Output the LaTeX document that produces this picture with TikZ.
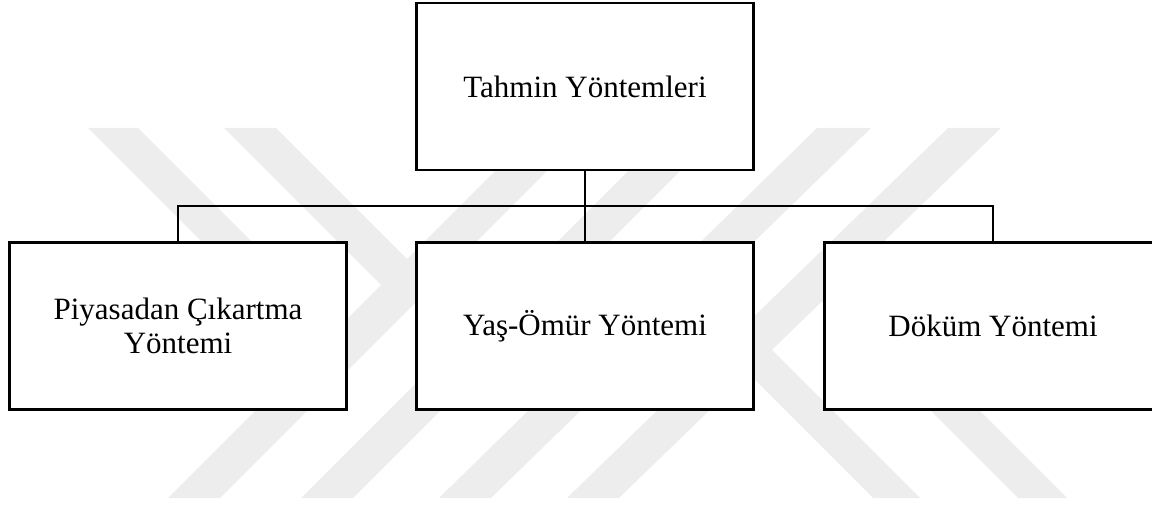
\documentclass[tikz,border=0pt]{standalone}
\usepackage{fontspec}
\setmainfont{Liberation Serif}
\definecolor{wm}{RGB}{237,237,237}
\begin{document}
\begin{tikzpicture}[x=1pt,y=-1pt,
  box/.style={draw=black, fill=white, line width=2.2pt, rectangle,
    minimum width=337pt, minimum height=167pt, inner sep=0pt, align=center,
    font=\fontsize{31}{34.5}\selectfont},
  link/.style={draw=black, line width=2.2pt},
  wstripe/.style={fill=wm}]
\useasboundingbox (0,0) rectangle (1152,505);
\clip (0,0) rectangle (1152,505);
% watermark
\fill[wstripe] (88,128) -- (138,128) -- (363,353) -- (313,353) -- cycle;
\fill[wstripe] (224,128) -- (276,128) -- (448,300) -- (396,300) -- cycle;
\fill[wstripe] (538,128) -- (590,128) -- (220,498) -- (168,498) -- cycle;
\fill[wstripe] (671,128) -- (723,128) -- (353,498) -- (301,498) -- cycle;
\fill[wstripe] (817,128) -- (871,128) -- (491,498) -- (439,498) -- cycle;
\fill[wstripe] (948,128) -- (1001,128) -- (619,498) -- (567,498) -- cycle;
\fill[wstripe] (715,340) -- (762,340) -- (920,498) -- (873,498) -- cycle;
\fill[wstripe] (810,290) -- (859,290) -- (1067,498) -- (1018,498) -- cycle;
% boxes
\node[box] (top) at (585,86.5) {Tahmin Yöntemleri};
\node[box] (c1) at (178,326) {Piyasadan Çıkartma\\Yöntemi};
\node[box] (c2) at (585,326) {Yaş-Ömür Yöntemi};
\node[box] (c3) at (993,326) {Döküm Yöntemi};
% connectors
\coordinate (bus) at (585,206);
\draw[link] (top.south) -- (c2.north);
\draw[link] (c1.north) |- (bus) -| (c3.north);
\end{tikzpicture}
\end{document}
